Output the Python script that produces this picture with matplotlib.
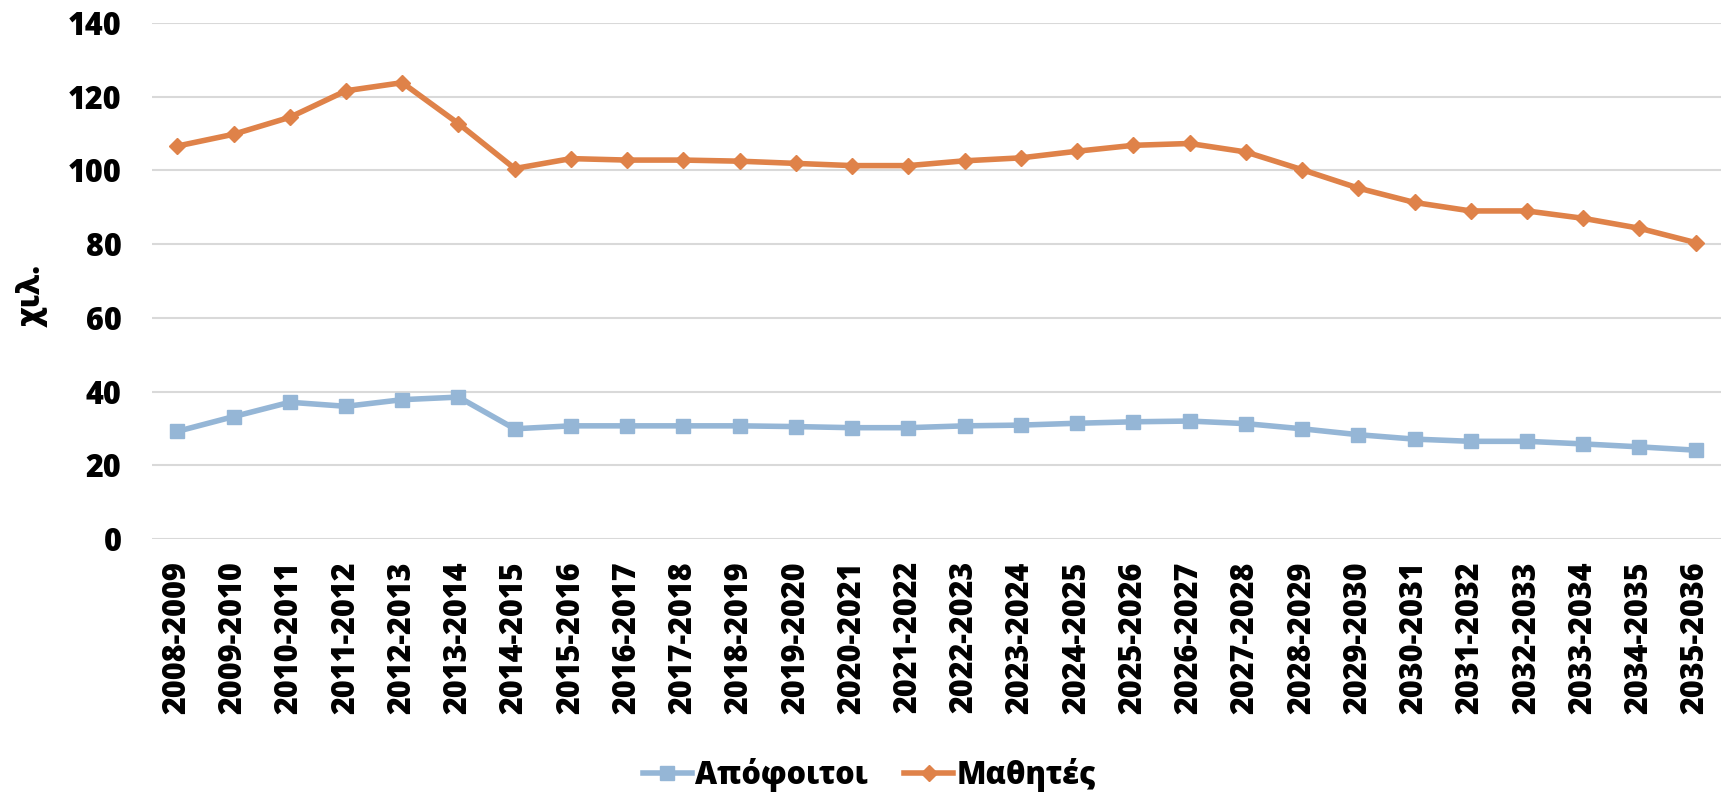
import numpy as np
import matplotlib
matplotlib.use("Agg")
import matplotlib.pyplot as plt

plt.rcParams['font.family'] = ['Open Sans', 'DejaVu Sans']
plt.rcParams['font.weight'] = 'heavy'

years = ['2008-2009', '2009-2010', '2010-2011', '2011-2012', '2012-2013',
         '2013-2014', '2014-2015', '2015-2016', '2016-2017', '2017-2018',
         '2018-2019', '2019-2020', '2020-2021', '2021-2022', '2022-2023',
         '2023-2024', '2024-2025', '2025-2026', '2026-2027', '2027-2028',
         '2028-2029', '2029-2030', '2030-2031', '2031-2032', '2032-2033',
         '2033-2034', '2034-2035', '2035-2036']

# Απόφοιτοι (graduates), thousands
apofoitoi = [29.2, 33.2, 37.1, 36.0, 37.8, 38.5, 29.9, 30.7, 30.7, 30.7,
             30.7, 30.5, 30.2, 30.2, 30.7, 30.9, 31.4, 31.8, 32.0, 31.3,
             29.9, 28.3, 27.1, 26.5, 26.5, 25.8, 25.0, 24.1]

# Μαθητές (students), thousands
mathites = [106.6, 109.8, 114.4, 121.6, 123.8, 112.7, 100.5, 103.2, 102.8, 102.8,
            102.5, 101.9, 101.3, 101.3, 102.6, 103.4, 105.2, 106.8, 107.3, 105.0,
            100.2, 95.2, 91.3, 89.0, 89.0, 87.0, 84.3, 80.4]

yticks = [0, 20, 40, 60, 80, 100, 120, 140]

blue = '#95B6D6'
orange = '#DF8249'

fig = plt.figure(figsize=(17.21, 7.97), dpi=100)
ax = fig.add_axes([0.0883, 0.3237, 0.9117, 0.6475])

x = np.arange(len(years))
ax.plot(x, apofoitoi, color=blue, lw=4, marker='s', markersize=10,
        label='Απόφοιτοι', zorder=3)
ax.plot(x, mathites, color=orange, lw=4, marker='D', markersize=8,
        label='Μαθητές', zorder=3)

ax.set_xlim(-0.45, len(years) - 0.55)
ax.set_ylim(0, 140)
ax.set_yticks(yticks)
ax.set_xticks(x)
ax.set_xticklabels(years, rotation=90, fontsize=22, fontweight='heavy')
ax.set_yticklabels([str(v) for v in yticks], fontsize=22, fontweight='heavy')
ax.tick_params(axis='both', length=0)
ax.tick_params(axis='y', pad=22)
ax.tick_params(axis='x', pad=16)
ax.grid(axis='y', color='#D9D9D9', lw=1.5, zorder=0)
for s in ax.spines.values():
    s.set_visible(False)

ax.set_ylabel('χιλ.', fontsize=22, fontweight='heavy')
ax.yaxis.set_label_coords(-0.066, 0.47)

fig.legend(loc='center', bbox_to_anchor=(0.505, 0.028), ncol=2, frameon=False,
           prop={'size': 22, 'weight': 'heavy'}, handlelength=1.6,
           handletextpad=0.1, columnspacing=1.2, borderpad=0.2)

fig.savefig('out.png', dpi=100)
